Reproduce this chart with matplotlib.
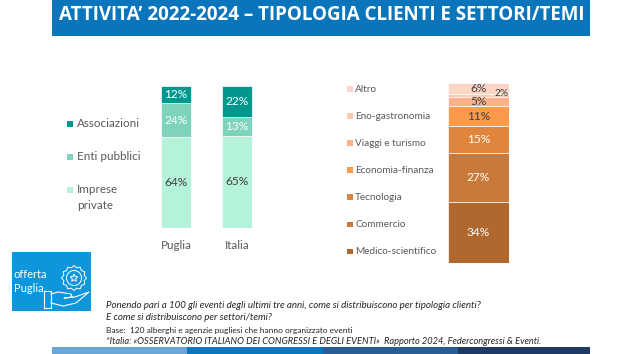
#!/usr/bin/env python3
# -*- coding: utf-8 -*-

"""Attivita 2022-2024: tipologia clienti e settori/temi."""

import numpy as np
import matplotlib
matplotlib.use("Agg")
import matplotlib.pyplot as plt
from matplotlib.patches import Rectangle, Polygon, Circle

plt.rcParams["font.family"] = ["Lato", "DejaVu Sans"]

W, H = 642, 354

AREAS = ["Puglia", "Italia"]
CLIENT_TYPES = ["Imprese\nprivate", "Enti pubblici", "Associazioni"]
CLIENT_VALUES = [[64, 65], [24, 13], [12, 22]]
CLIENT_COLORS = ["#b5f2da", "#7dd3bc", "#00978f"]
CLIENT_TEXT = ["#404040", "white", "white"]

SECTORS = ["Medico-scientifico", "Commercio", "Tecnologia", "Economia-finanza",
           "Viaggi e turismo", "Eno-gastronomia", "Altro"]
SECTOR_VALUES = [34, 27, 15, 11, 5, 2, 6]
SECTOR_COLORS = ["#b0682f", "#c97a3a", "#e0853e", "#fb9a4b",
                 "#fdb08a", "#fdc9ae", "#fcd5c5"]
SECTOR_TEXT = ["white", "white", "white", "#404040", "#404040", "#404040", "#404040"]

TITLE = "ATTIVITA’ 2022-2024 – TIPOLOGIA CLIENTI E SETTORI/TEMI"
NOTE_1 = "Ponendo pari a 100 gli eventi degli ultimi tre anni, come si distribuiscono per tipologia clienti?"
NOTE_2 = "E come si distribuiscono per settori/temi?"
NOTE_3 = "Base:  120 alberghi e agenzie pugliesi che hanno organizzato eventi"
NOTE_4 = "*Italia: «OSSERVATORIO ITALIANO DEI CONGRESSI E DEGLI EVENTI»  Rapporto 2024, Federcongressi & Eventi."

GREY = "#595959"


def px_axes(fig, left, top, right, bottom):
    """Axes placed with pixel edges, y counted from the top."""
    return fig.add_axes([left / W, 1 - bottom / H, (right - left) / W, (bottom - top) / H])


def clean(ax):
    for spine in ax.spines.values():
        spine.set_visible(False)
    ax.tick_params(length=0)
    ax.set_yticks([])
    ax.patch.set_alpha(0)


def draw_clients(fig):
    ax = px_axes(fig, 145.5, 86, 267.5, 228)
    bottoms = np.zeros(len(AREAS))
    for vals, color, tcol in zip(CLIENT_VALUES, CLIENT_COLORS, CLIENT_TEXT):
        bars = ax.bar(AREAS, vals, 0.49, bottom=bottoms, color=color,
                      edgecolor="white", linewidth=0.5)
        ax.bar_label(bars, labels=["%d%%" % v for v in vals], label_type="center",
                     color=tcol, fontsize=8.6)
        bottoms += np.array(vals)
    ax.set_xlim(-0.5, 1.5)
    ax.set_ylim(0, 100)
    clean(ax)
    ax.tick_params(axis="x", pad=8.5, labelsize=8.4, labelcolor=GREY)


def draw_sectors(fig):
    ax = px_axes(fig, 448, 83, 509, 263)
    bottom = 0
    for i, val in enumerate(SECTOR_VALUES):
        bars = ax.bar([0], [val], 1.0, bottom=bottom, color=SECTOR_COLORS[i],
                      edgecolor="white", linewidth=0.5)
        if val > 2:
            ax.bar_label(bars, labels=["%d%%" % val], label_type="center",
                         color=SECTOR_TEXT[i], fontsize=8.6)
        else:
            ax.text(0.38, bottom + val / 2 + 1, "%d%%" % val, color=SECTOR_TEXT[i],
                    fontsize=7.3, ha="center", va="center")
        bottom += val
    ax.set_xlim(-0.5, 0.5)
    ax.set_ylim(0, 100)
    ax.set_xticks([])
    clean(ax)


def draw_icon(ax):
    """Blue tile with the rosette and the open hand."""
    ax.add_patch(Rectangle((12, 252), 79, 59, color="#0e96dc", lw=0))
    ax.text(14, 275, "offerta", color="white", fontsize=8, va="center")
    ax.text(14, 289, "Puglia", color="white", fontsize=8, va="center")
    angles = np.linspace(0, 2 * np.pi, 25)[:-1]
    radii = np.where(np.arange(24) % 2 == 0, 12.5, 10.5)
    ring = np.c_[74 + radii * np.cos(angles), 278 + radii * np.sin(angles)]
    ax.add_patch(Polygon(ring, fill=False, ec="white", lw=0.7))
    ax.add_patch(Circle((74, 278), 7.5, fill=False, ec="white", lw=0.7))
    star_a = np.linspace(-np.pi / 2, 1.5 * np.pi, 11)[:-1]
    star_r = np.where(np.arange(10) % 2 == 0, 4, 1.8)
    ax.add_patch(Polygon(np.c_[74 + star_r * np.cos(star_a), 278 + star_r * np.sin(star_a)],
                         fill=False, ec="white", lw=0.7))
    ax.plot([44, 51, 51, 44, 44], [291, 291, 308, 308, 291], color="white", lw=0.8)
    ax.plot([51, 58, 65, 71, 72, 64, 75, 89, 76, 63, 51],
            [294, 292, 293, 294, 297, 298, 297, 292, 303, 306, 303],
            color="white", lw=0.8)


def draw_frame(ax):
    ax.add_patch(Rectangle((52, 0), 538, 36, color="#0b75bb", lw=0))
    ax.text(322, 15.5, TITLE, color="white", fontsize=13.5, fontweight="bold",
            family="Open Sans", ha="center", va="center")

    band_cols = ["#6aa5d8", "#0a78c0", "#2a5d96", "#1f3a64"]
    band_edges = [52, 187, 323, 458, 590]
    for i, col in enumerate(band_cols):
        ax.add_patch(Rectangle((band_edges[i], 347), band_edges[i + 1] - band_edges[i], 7,
                               color=col, lw=0))

    # client legend, top to bottom
    for name, col, y in zip(CLIENT_TYPES[::-1], CLIENT_COLORS[::-1], [123.5, 157, 190]):
        ax.add_patch(Rectangle((67, y - 3), 6, 6, color=col, lw=0))
        ax.text(77, y + (7.5 if "\n" in name else 0), name, color=GREY, fontsize=8.4,
                va="center", linespacing=1.45)

    # sector legend, top to bottom
    for i, (name, col) in enumerate(zip(SECTORS[::-1], SECTOR_COLORS[::-1])):
        y = 89 + i * 27.1
        ax.add_patch(Rectangle((347, y - 3), 5.5, 5.5, color=col, lw=0))
        ax.text(355, y, name, color=GREY, fontsize=7.2, va="center")

    ax.text(106, 305, NOTE_1, style="italic", color="#262626", fontsize=7.0, va="center")
    ax.text(106, 317, NOTE_2, style="italic", color="#262626", fontsize=7.0, va="center")
    ax.text(106, 330, NOTE_3, color="#262626", fontsize=6.0, va="center")
    ax.text(106, 342, NOTE_4, style="italic", color="#262626", fontsize=6.7, va="center")


def main():
    fig = plt.figure(figsize=(W / 100, H / 100), dpi=100, facecolor="white")
    overlay = fig.add_axes([0, 0, 1, 1])
    overlay.set_xlim(0, W)
    overlay.set_ylim(H, 0)
    overlay.axis("off")
    draw_frame(overlay)
    draw_icon(overlay)
    draw_clients(fig)
    draw_sectors(fig)
    fig.savefig("out.png", dpi=100)


if __name__ == "__main__":
    main()
